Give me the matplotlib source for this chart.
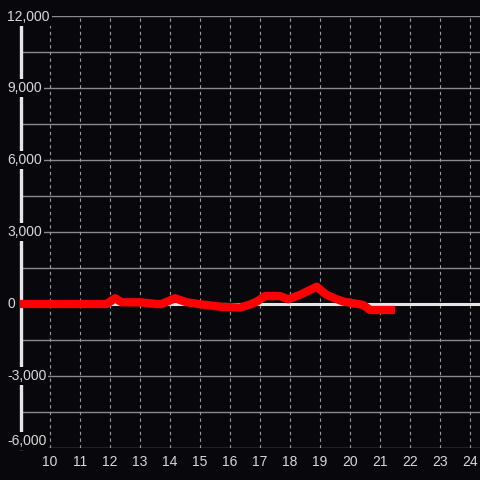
import matplotlib
matplotlib.use("Agg")
import matplotlib.pyplot as plt
import matplotlib.transforms as mtransforms

# ── Data ───────────────────────────────────────────────────────────────────────
hours = [9.0, 11.89, 12.17, 12.39, 13.0, 13.56, 13.72, 14.17, 14.56, 15.0,
         15.67, 16.33, 16.67, 16.89, 17.17, 17.67, 17.94, 18.33, 18.89,
         19.22, 19.56, 19.78, 20.44, 20.67, 21.5]
values = [0, 0, 240, 70, 70, 0, 0, 240, 70, -10,
          -110, -150, -20, 100, 330, 330, 200, 380, 720,
          380, 200, 100, -40, -250, -250]

x_ticks = list(range(10, 25))
y_grid = list(range(-6000, 12001, 1500))
y_labels = [-6000, -3000, 0, 3000, 6000, 9000, 12000]

# ── Colours ────────────────────────────────────────────────────────────────────
C_BG = "#08070b"
C_TEXT = "#d8d8d8"
C_GRID = "#8a8a8a"
C_VGRID = "#9a9a9a"
C_AXIS = "#e6e6e6"
C_LINE = "#ff0000"

plt.rcParams["font.family"] = ["Liberation Sans", "DejaVu Sans"]

fig = plt.figure(figsize=(4.8, 4.8), dpi=100)
fig.patch.set_facecolor(C_BG)
ax = fig.add_axes([20 / 480, 32 / 480, 460 / 480, 432 / 480])
ax.set_facecolor(C_BG)
ax.set_xlim(9, 9 + 460 / 30)
ax.set_ylim(-6000, 12000)
for sp in ax.spines.values():
    sp.set_visible(False)

# grid
for y in y_grid:
    ax.axhline(y, color=C_GRID, lw=1.0, zorder=1)
for x in x_ticks:
    ax.axvline(x, color=C_VGRID, lw=0.8, ls=(0, (3, 3)), zorder=1)

# zero line + left axis line
ax.axhline(0, color=C_AXIS, lw=2.2, zorder=2)
ax.axvline(9.03, color=C_AXIS, lw=2.4, zorder=2, clip_on=False)

# series
ax.plot(hours, values, color=C_LINE, lw=6, solid_joinstyle="round",
        solid_capstyle="butt", zorder=4)

# x ticks
ax.set_xticks(x_ticks)
ax.set_xticklabels([str(x) for x in x_ticks])
ax.set_yticks([])
ax.tick_params(axis="x", length=0, pad=5, labelsize=10, labelcolor=C_TEXT)

# y labels (over the axis line, with background box)
trans = mtransforms.blended_transform_factory(ax.transAxes, ax.transData)
for y in y_labels:
    off = 7 if y == -6000 else (-1 if y == 12000 else 0)
    t = ax.text(-13 / 460, y, f"{y:,}", transform=trans + mtransforms.ScaledTranslation(0, off / 100, fig.dpi_scale_trans),
                ha="left", va="center", fontsize=10, color=C_TEXT, zorder=5,
                bbox=dict(facecolor=C_BG, edgecolor="none", pad=1.5),
                clip_on=False)

fig.savefig("out.png", dpi=100, facecolor=C_BG)
